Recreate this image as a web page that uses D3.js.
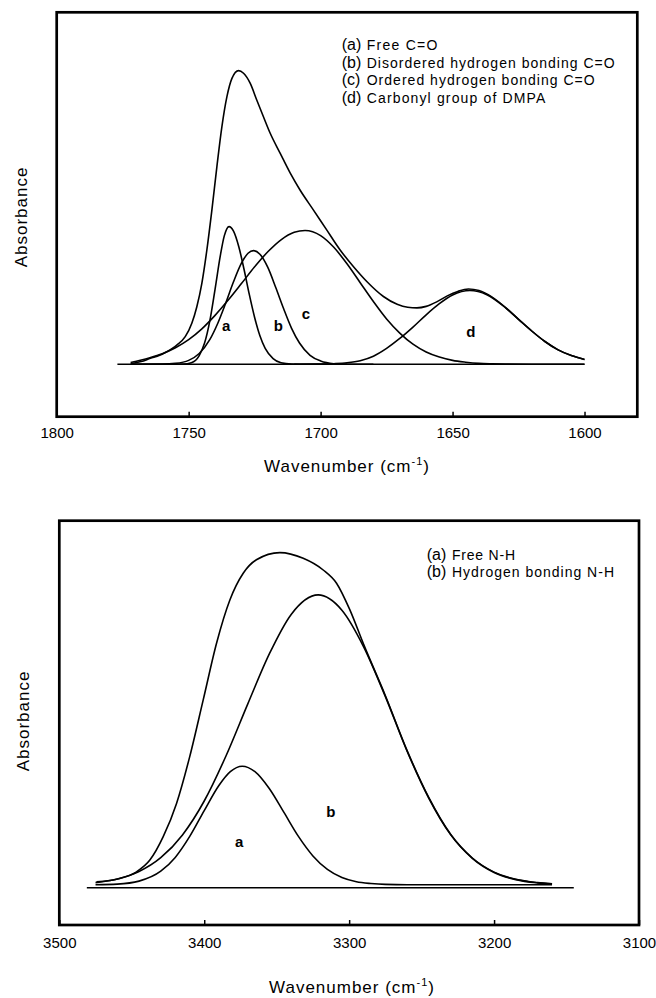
<!DOCTYPE html>
<html>
<head>
<meta charset="utf-8">
<script src="https://cdn.jsdelivr.net/npm/d3@7"></script>
<style>
  html, body { margin: 0; padding: 0; background: #fff; }
  svg { display: block; }
  text { font-family: "Liberation Sans", Arial, Helvetica, sans-serif; fill: #000; }
</style>
</head>
<body>
<svg id="chart" width="656" height="998"></svg>
<script>
// ---------- C=O stretching region (upper panel) ----------
const coTicks = [1800, 1750, 1700, 1650, 1600];
const coBaseline = [1777, 1600];

// measured band envelope [wavenumber, absorbance]
const coEnvelope = [
  [1772, 0.002], [1768, 0.009], [1764.5, 0.020], [1761, 0.030], [1758.3, 0.042],
  [1754.5, 0.064], [1751.3, 0.092], [1748.8, 0.137], [1746.9, 0.192], [1745.0, 0.270],
  [1743.1, 0.381], [1741.2, 0.514], [1739.3, 0.659], [1737.4, 0.792], [1735.5, 0.892],
  [1733.6, 0.953], [1731.1, 0.979], [1729.2, 0.970], [1726.7, 0.937], [1724.2, 0.881],
  [1721.7, 0.826], [1719.1, 0.770], [1715.3, 0.703], [1711.5, 0.637], [1707.8, 0.581],
  [1702.7, 0.514], [1697.7, 0.448], [1692.6, 0.381], [1687.6, 0.326], [1682.5, 0.276],
  [1676.2, 0.226], [1671, 0.200], [1667, 0.190], [1663.5, 0.188], [1660, 0.193],
  [1656, 0.208], [1652, 0.228], [1648, 0.243], [1644, 0.251], [1640, 0.246],
  [1635, 0.224], [1630, 0.190], [1625, 0.150], [1620, 0.111], [1615, 0.076],
  [1610, 0.048], [1605, 0.029], [1600, 0.016]
];
// (a) free C=O
const coFree = [
  [1771, 0], [1760, 0.0001], [1756, 0.0002], [1752, 0.0007], [1749, 0.005], [1746, 0.029],
  [1744, 0.070], [1742, 0.144], [1740, 0.250], [1738, 0.362], [1736.5, 0.428], [1734.7, 0.459],
  [1733, 0.444], [1731, 0.392], [1729, 0.316], [1727, 0.232], [1725, 0.156], [1723, 0.095],
  [1721, 0.053], [1718, 0.019], [1715, 0.005], [1711, 0.0007], [1705, 0], [1690, 0]
];
// (b) disordered hydrogen bonded C=O
const coDisordered = [
  [1771, 0.0001], [1760, 0.0005], [1755, 0.003], [1750, 0.013], [1746, 0.036], [1742, 0.082],
  [1739, 0.136], [1736, 0.203], [1733, 0.275], [1730, 0.337], [1727.5, 0.370], [1725.4, 0.379],
  [1723, 0.367], [1720, 0.323], [1717, 0.256], [1714, 0.185], [1711, 0.120], [1708, 0.071],
  [1704, 0.030], [1700, 0.011], [1695, 0.002], [1690, 0], [1680, 0]
];
// (c) ordered hydrogen bonded C=O
const coOrdered = [
  [1772, 0.006], [1765, 0.021], [1760, 0.035], [1755, 0.055], [1750, 0.082], [1745, 0.118],
  [1740, 0.163], [1735, 0.214], [1730, 0.269], [1725, 0.325], [1720, 0.375], [1715, 0.415],
  [1710, 0.440], [1705.9, 0.446], [1700, 0.429], [1695, 0.390], [1690, 0.335], [1685, 0.272],
  [1680, 0.209], [1675, 0.151], [1670, 0.104], [1665, 0.067], [1660, 0.041], [1655, 0.024],
  [1650, 0.013], [1645, 0.007], [1640, 0.003], [1635, 0.0015], [1630, 0.0007], [1620, 0], [1600, 0]
];
// (d) carbonyl group of DMPA
const coDMPA = [
  [1710, 0], [1700, 0.0005], [1695, 0.002], [1690, 0.005], [1685, 0.012], [1680, 0.027],
  [1675, 0.053], [1670, 0.086], [1665, 0.124], [1660, 0.165], [1655, 0.202], [1650, 0.231],
  [1643.4, 0.246], [1637, 0.232], [1630, 0.189], [1625, 0.150], [1620, 0.111], [1615, 0.076],
  [1610, 0.048], [1605, 0.029], [1600, 0.016]
];
const coLegendKeys = ["(a)", "(b)", "(c)", "(d)"];
const coLegendText = ["Free C=O", "Disordered hydrogen bonding C=O",
                      "Ordered hydrogen bonding C=O", "Carbonyl group of DMPA"];
// peak letters placed at [wavenumber, absorbance]
const coPeakLetters = [["a", 1735.8, 0.128], ["b", 1716.0, 0.128], ["c", 1705.6, 0.170], ["d", 1643.1, 0.109]];

// ---------- N-H stretching region (lower panel) ----------
const nhTicks = [3500, 3400, 3300, 3200, 3100];
const nhBaseline = [3481, 3145];

const nhEnvelope = [
  [3474.3, 0.020], [3458.2, 0.031], [3446.7, 0.053], [3437.5, 0.092], [3428.3, 0.170],
  [3419.1, 0.281], [3410.0, 0.437], [3400.7, 0.626], [3391.5, 0.815], [3382.3, 0.959],
  [3373.1, 1.048], [3364.0, 1.093], [3347.8, 1.117], [3331.7, 1.098], [3317.9, 1.059],
  [3308.7, 1.015], [3299.5, 0.926], [3290, 0.811], [3275, 0.640], [3260, 0.457],
  [3245, 0.300], [3230, 0.178], [3215, 0.099], [3200, 0.052], [3185, 0.028],
  [3170, 0.017], [3160, 0.013]
];
// (a) free N-H
const nhFree = [
  [3475, 0.010], [3460, 0.012], [3445, 0.022], [3430, 0.055], [3420, 0.101], [3410, 0.171],
  [3400, 0.257], [3390, 0.340], [3382, 0.387], [3373.8, 0.405], [3365, 0.387], [3355, 0.330],
  [3345, 0.251], [3335, 0.171], [3325, 0.106], [3315, 0.061], [3305, 0.034], [3295, 0.020],
  [3285, 0.014], [3275, 0.011], [3260, 0.010], [3160, 0.010]
];
// (b) hydrogen bonded N-H
const nhBonded = [
  [3475, 0.017], [3460, 0.029], [3445, 0.054], [3430, 0.100], [3415, 0.176], [3400, 0.289],
  [3385, 0.439], [3370, 0.612], [3355, 0.780], [3340, 0.911], [3321.4, 0.976], [3305, 0.925],
  [3290, 0.803], [3275, 0.637], [3260, 0.455], [3245, 0.298], [3230, 0.177], [3215, 0.098],
  [3200, 0.051], [3185, 0.027], [3170, 0.016], [3160, 0.012]
];
const nhLegendKeys = ["(a)", "(b)"];
const nhLegendText = ["Free N-H", "Hydrogen bonding N-H"];
const nhPeakLetters = [["a", 3375.9, 0.153], ["b", 3312.6, 0.253]];

const axisTitleX = "Wavenumber (cm";
const axisTitleY = "Absorbance";

// ---------- drawing ----------
const svg = d3.select("#chart");
svg.append("rect").attr("width", 656).attr("height", 998).attr("fill", "#fff");

function panel(cfg) {
  const x = d3.scaleLinear().domain(cfg.xDomain).range(cfg.xRange);
  const y = d3.scaleLinear().domain(cfg.yDomain).range(cfg.yRange);
  const g = svg.append("g");

  const line = d3.line()
    .x(d => x(d[0]))
    .y(d => y(d[1]))
    .curve(d3.curveMonotoneX);

  // zero-absorbance baseline
  g.append("line")
    .attr("x1", x(cfg.baseline[0])).attr("x2", x(cfg.baseline[1]))
    .attr("y1", y(0)).attr("y2", y(0))
    .attr("stroke", "#000").attr("stroke-width", 1.6);

  cfg.series.forEach(s => {
    g.append("path")
      .attr("d", line(s))
      .attr("fill", "none")
      .attr("stroke", "#000")
      .attr("stroke-width", 1.6)
      .attr("stroke-linejoin", "round");
  });

  // peak letters
  g.selectAll("text.peak")
    .data(cfg.letters)
    .join("text")
    .attr("class", "peak")
    .attr("x", d => x(d[1]))
    .attr("y", d => y(d[2]))
    .attr("dy", "0.36em")
    .attr("text-anchor", "middle")
    .attr("font-size", 15)
    .attr("font-weight", "bold")
    .text(d => d[0]);

  // frame
  const [x0, x1] = cfg.xRange, [y1, y0] = cfg.yRange;
  g.append("rect")
    .attr("x", x0).attr("y", y0)
    .attr("width", x1 - x0).attr("height", y1 - y0)
    .attr("fill", "none").attr("stroke", "#000").attr("stroke-width", 2.7);

  // x axis: inward ticks on the bottom edge
  const ax = g.append("g")
    .attr("transform", `translate(0,${y1})`)
    .call(d3.axisBottom(x)
      .tickValues(cfg.ticks)
      .tickSizeInner(-5)
      .tickSizeOuter(0)
      .tickPadding(cfg.tickPad)
      .tickFormat(d3.format("d")));
  ax.select(".domain").remove();
  ax.selectAll(".tick line").attr("stroke", "#000").attr("stroke-width", 1.5);
  ax.selectAll(".tick text")
    .attr("font-family", "'Liberation Sans', Arial, sans-serif")
    .attr("font-size", 15)
    .attr("fill", "#000");
  ax.attr("font-family", null).attr("font-size", null);

  // x title with superscript
  const xt = g.append("text")
    .attr("x", cfg.xTitle[0]).attr("y", cfg.xTitle[1])
    .attr("text-anchor", "middle")
    .attr("font-size", 17)
    .attr("letter-spacing", "1px");
  xt.append("tspan").text(axisTitleX);
  xt.append("tspan").attr("font-size", 11).attr("dy", -7).text("-1");
  xt.append("tspan").attr("dy", 7).text(")");

  // y title
  g.append("text")
    .attr("transform", `translate(${cfg.yTitle[0]},${cfg.yTitle[1]}) rotate(-90)`)
    .attr("text-anchor", "middle")
    .attr("font-size", 17)
    .attr("letter-spacing", "1px")
    .text(axisTitleY);

  // legend
  const lg = g.append("g");
  cfg.legendKeys.forEach((k, i) => {
    const by = cfg.legend.y + i * cfg.legend.step;
    lg.append("text")
      .attr("x", cfg.legend.keyX).attr("y", by)
      .attr("font-size", 16)
      .text(k);
    lg.append("text")
      .attr("x", cfg.legend.textX).attr("y", by)
      .attr("font-size", 14)
      .attr("textLength", cfg.legend.widths[i])
      .attr("lengthAdjust", "spacing")
      .text(cfg.legendText[i]);
  });
}

panel({
  xDomain: [1800, 1580], xRange: [56.7, 637.3],
  yDomain: [-0.1747, 1.1733], yRange: [416.7, 12.3],
  baseline: coBaseline,
  series: [coEnvelope, coFree, coDisordered, coOrdered, coDMPA],
  letters: coPeakLetters,
  ticks: coTicks, tickPad: 11,
  xTitle: [347, 472], yTitle: [27, 217],
  legendKeys: coLegendKeys, legendText: coLegendText,
  legend: { keyX: 341.7, textX: 366.7, y: 50, step: 17.7, widths: [70.7, 248, 228, 178.6] }
});

panel({
  xDomain: [3500, 3100], xRange: [59.3, 639],
  yDomain: [-0.1243, 1.2233], yRange: [925, 520.7],
  baseline: nhBaseline,
  series: [nhEnvelope, nhFree, nhBonded],
  letters: nhPeakLetters,
  ticks: nhTicks, tickPad: 12.4,
  xTitle: [352, 993], yTitle: [29, 721],
  legendKeys: nhLegendKeys, legendText: nhLegendText,
  legend: { keyX: 426.7, textX: 452, y: 559.5, step: 17.5, widths: [63, 162] }
});
</script>
</body>
</html>
